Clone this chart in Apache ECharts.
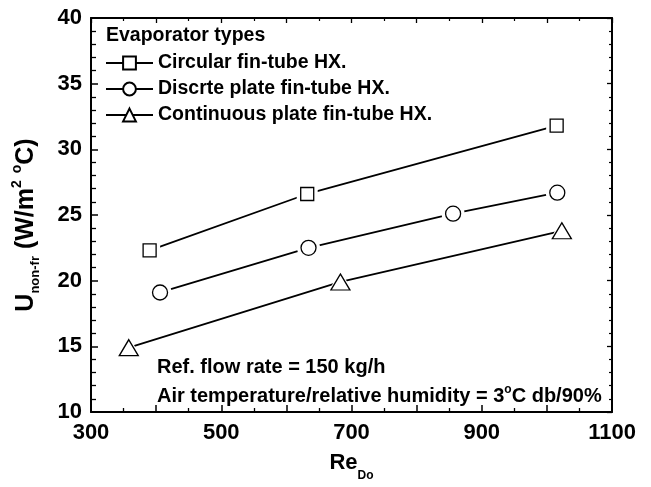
<!DOCTYPE html>
<html>
<head>
<meta charset="utf-8">
<script src="https://cdn.jsdelivr.net/npm/echarts@6/dist/echarts.min.js"></script>
<style>
  html, body { margin: 0; padding: 0; background: #fff; }
  #chart { width: 651px; height: 487px; }
</style>
</head>
<body>
<div id="chart"></div>
<script>
// evaporator types, Re_Do vs U_non-fr
var seriesNames = ['Circular fin-tube HX.', 'Discrte plate fin-tube HX.', 'Continuous plate fin-tube HX.'];
var circularRe = [390, 632, 1015];
var circularU = [22.3, 26.6, 31.8];
var discreteRe = [406, 634, 856, 1016];
var discreteU = [19.1, 22.5, 25.1, 26.7];
var continuousRe = [358, 683, 1023];
var continuousU = [14.9, 19.9, 23.8];
var xTicks = [300, 500, 700, 900, 1100];
var yTicks = [10, 15, 20, 25, 30, 35, 40];

var FONT = '"Liberation Sans", Arial, sans-serif';
var chart = echarts.init(document.getElementById('chart'));

function pairs(xs, ys) {
  return xs.map(function (x, i) { return [x, ys[i]]; });
}
var sets = [pairs(circularRe, circularU), pairs(discreteRe, discreteU), pairs(continuousRe, continuousU)];
var symbols = ['rect', 'circle', 'triangle'];
var sizes = [13, 15, [19, 16]];
var haloSizes = [21, 23, [27, 24]];

var series = [];
sets.forEach(function (d, i) {
  // line with markers (also gives the legend icon)
  series.push({
    name: seriesNames[i], type: 'line', data: d, z: 2,
    symbol: symbols[i], symbolSize: sizes[i],
    itemStyle: { color: '#fff', borderColor: '#000', borderWidth: 1.3 },
    lineStyle: { color: '#000', width: 1.8 }
  });
  // white halo -> small gap between line and marker
  series.push({
    name: 'halo' + i, type: 'scatter', data: d, z: 3, silent: true,
    symbol: symbols[i], symbolSize: haloSizes[i],
    itemStyle: { color: '#fff', opacity: 1 }
  });
  series.push({
    name: 'mark' + i, type: 'scatter', data: d, z: 4, silent: true,
    symbol: symbols[i], symbolSize: sizes[i],
    itemStyle: { color: '#fff', borderColor: '#000', borderWidth: 1.3, opacity: 1 }
  });
});

chart.setOption({
  animation: false,
  backgroundColor: '#fff',
  grid: { left: 91, right: 39, top: 18, bottom: 71 },
  xAxis: [{
    type: 'value', min: 300, max: 1100, interval: 100,
    name: '{r|Re}{sub|Do}', nameLocation: 'middle', nameGap: 40,
    nameTextStyle: {
      rich: {
        r: { fontFamily: FONT, fontWeight: 'bold', fontSize: 22, color: '#000', lineHeight: 30, verticalAlign: 'top' },
        sub: { fontFamily: FONT, fontWeight: 'bold', fontSize: 12, color: '#000', lineHeight: 30, verticalAlign: 'bottom' }
      }
    },
    axisLine: { lineStyle: { color: '#000', width: 2 } },
    axisTick: { inside: true, length: 7, lineStyle: { color: '#000', width: 1.5 } },
    minorTick: { show: true, splitNumber: 2, length: 4, lineStyle: { color: '#000', width: 1.3 } },
    axisLabel: {
      margin: 10, color: '#000', fontFamily: FONT, fontWeight: 'bold', fontSize: 22,
      formatter: function (v) { return xTicks.indexOf(v) >= 0 ? String(v) : ''; }
    },
    splitLine: { show: false }
  }, {
    type: 'value', position: 'top', min: 300, max: 1100, interval: 100,
    axisLine: { show: true, onZero: false, lineStyle: { color: '#000', width: 2 } },
    axisTick: { inside: true, length: 5, lineStyle: { color: '#000', width: 1.3 } },
    minorTick: { show: true, splitNumber: 2, length: 3, lineStyle: { color: '#000', width: 1.2 } },
    axisLabel: { show: false }, splitLine: { show: false }
  }],
  yAxis: [{
    type: 'value', min: 10, max: 40, interval: 5,
    name: '{u|U}{sub|non-fr}{u| (W/m}{sup|2}{u| }{sup|o}{u|C)}',
    nameLocation: 'middle', nameGap: 49, nameRotate: 90,
    nameTextStyle: {
      padding: [0, 20, 0, 0],
      rich: {
        u: { fontFamily: FONT, fontWeight: 'bold', fontSize: 25, color: '#000', lineHeight: 32 },
        sub: { fontFamily: FONT, fontWeight: 'bold', fontSize: 13, color: '#000', lineHeight: 32, verticalAlign: 'bottom' },
        sup: { fontFamily: FONT, fontWeight: 'bold', fontSize: 14, color: '#000', lineHeight: 32, verticalAlign: 'top' }
      }
    },
    axisLine: { lineStyle: { color: '#000', width: 2 } },
    axisTick: { inside: true, length: 7, lineStyle: { color: '#000', width: 1.5 } },
    minorTick: { show: true, splitNumber: 5, length: 5, lineStyle: { color: '#000', width: 1.3 } },
    axisLabel: {
      margin: 9, color: '#000', fontFamily: FONT, fontWeight: 'bold', fontSize: 22,
      formatter: function (v) { return yTicks.indexOf(v) >= 0 ? String(v) : ''; }
    },
    splitLine: { show: false }
  }, {
    type: 'value', position: 'right', min: 10, max: 40, interval: 5,
    axisLine: { show: true, onZero: false, lineStyle: { color: '#000', width: 2 } },
    axisTick: { inside: true, length: 5, lineStyle: { color: '#000', width: 1.3 } },
    minorTick: { show: true, splitNumber: 5, length: 3, lineStyle: { color: '#000', width: 1.2 } },
    axisLabel: { show: false }, splitLine: { show: false }
  }],
  legend: {
    data: seriesNames, orient: 'vertical', left: 105, top: 53, padding: 0,
    itemWidth: 47, itemHeight: 16, itemGap: 6,
    textStyle: { fontFamily: FONT, fontWeight: 'bold', fontSize: 19.5, color: '#000', lineHeight: 16 },
    selectedMode: false
  },
  graphic: [
    { type: 'text', left: 106, top: 26,
      style: { text: 'Evaporator types', fill: '#000', font: 'bold 19.5px ' + FONT } },
    { type: 'text', left: 157, top: 357,
      style: { text: 'Ref. flow rate = 150 kg/h', fill: '#000', font: 'bold 20px ' + FONT } },
    { type: 'text', left: 157, top: 384,
      style: {
        text: '{t|Air temperature/relative humidity = 3}{s|o}{t|C db/90%}',
        rich: {
          t: { fill: '#000', fontFamily: FONT, fontWeight: 'bold', fontSize: 20, lineHeight: 24 },
          s: { fill: '#000', fontFamily: FONT, fontWeight: 'bold', fontSize: 12, lineHeight: 24, verticalAlign: 'top' }
        }
      } }
  ],
  series: series
});
</script>
</body>
</html>
